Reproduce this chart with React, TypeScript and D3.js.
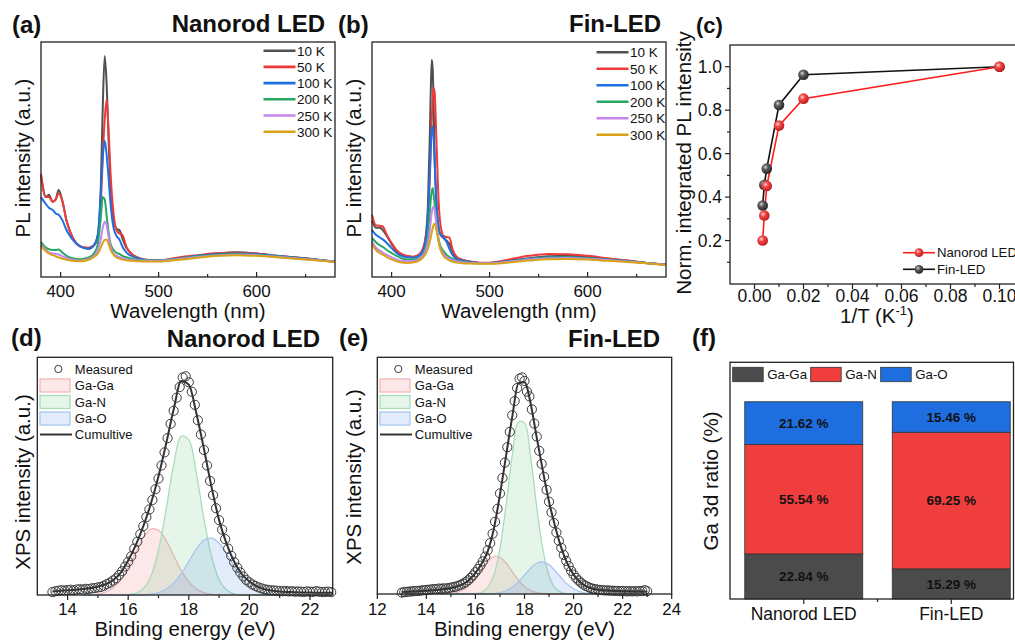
import React, { useEffect, useRef } from "react";
import * as d3 from "d3";

const FONT = "'Liberation Sans', Arial, Helvetica, sans-serif";
const INK = "#222";

// ---- (a)/(b) temperature dependent PL spectra (intensity in % of frame height)
const TEMPS = ["10 K", "50 K", "100 K", "200 K", "250 K", "300 K"];
const TEMP_COLORS = ["#505050", "#f03a3a", "#1f6fe0", "#27a862", "#c586ee", "#d8a316"];

const WL_NR = [380, 385, 388, 392, 395, 398, 402, 406, 412, 420, 428, 434, 438, 441, 443, 445, 447, 449, 451, 454, 457, 460, 463, 467, 472, 480, 490, 500, 520, 540, 560, 580, 600, 620, 640, 660, 680];
const NR_10K = [43, 34, 35, 32, 33, 37, 32, 24, 17, 13, 12, 13.5, 18, 38, 72, 94, 82, 58, 38, 25, 20.5, 20, 16.5, 12.5, 10, 8, 7.1, 7, 8, 9, 10, 10.5, 10, 9, 8.3, 7.5, 6.5];
const NR_50K = [44, 34, 34, 32, 33, 35.5, 32, 24, 17, 13, 12.5, 13.5, 17, 30, 51, 67, 75.5, 62, 44, 27, 20, 18.5, 18, 13, 10, 8, 7.2, 7, 8.3, 9.3, 10.2, 10.3, 10, 9, 8.3, 7.5, 6.5];
const NR_100K = [34, 31, 29.5, 28.5, 27, 26.5, 24, 20, 16, 13, 12, 13.5, 18, 36, 51, 58, 52, 42, 31, 21, 17.5, 16, 13, 10.5, 9, 7.8, 7.1, 7, 7.8, 9, 9.8, 10, 9.8, 9, 8.2, 7.4, 6.5];
const NR_200K = [15, 12.5, 11.8, 11.5, 11.5, 11.7, 10.3, 9, 8, 7.6, 8.2, 10, 14, 25, 34, 33, 26, 19, 14, 11.5, 10.3, 9.8, 9, 8.4, 7.8, 7.3, 7, 7, 7.8, 8.8, 9.5, 9.8, 9.5, 8.8, 8, 7.3, 6.5];
const NR_250K = [13.8, 11.5, 10.5, 10, 9.8, 9.6, 8.8, 8, 7.4, 7, 7.6, 9, 11.5, 16, 21, 23.5, 22, 17, 13, 10, 9, 8.5, 8, 7.6, 7.3, 7, 6.9, 6.9, 7.6, 8.5, 9.2, 9.5, 9.3, 8.6, 7.9, 7.2, 6.5];
const NR_300K = [13.3, 11, 10, 9.3, 8.8, 8.3, 7.8, 7.3, 6.9, 6.7, 7.2, 8.5, 10, 12.5, 14.5, 15.8, 16, 14, 11.5, 9.5, 8.3, 7.8, 7.4, 7.1, 6.9, 6.7, 6.6, 6.6, 7.3, 8.2, 9, 9.3, 9, 8.4, 7.8, 7.1, 6.4];

const WL_FIN = [380, 384, 388, 391, 395, 400, 405, 410, 416, 422, 428, 432, 435, 437, 439, 440, 441, 442, 443, 444, 446, 448, 450, 453, 456, 459, 462, 466, 472, 480, 490, 500, 520, 540, 560, 580, 600, 620, 640, 660, 680];
const FIN_10K = [24, 21, 21, 20, 17.5, 14, 11, 9.5, 8.8, 8.5, 9.5, 12, 18, 30, 60, 80, 92.5, 88, 70, 50, 30, 21, 18, 16.5, 15.5, 14, 11, 8.5, 7.3, 6.5, 6, 6, 6.8, 8, 8.8, 9, 8.5, 7.8, 7, 6, 5.2];
const FIN_50K = [26.5, 22, 21.8, 21.5, 18, 14.5, 11.5, 9.8, 8.9, 8.6, 9.6, 12, 17, 25, 42, 55, 67, 76, 80.5, 78, 55, 32, 22, 17.5, 17, 16.8, 12, 8.8, 7.4, 6.6, 6.1, 6.1, 7.5, 9, 9.8, 9.7, 9, 8, 7, 6, 5.2];
const FIN_100K = [20, 18, 16.8, 16, 14.5, 12.3, 10.2, 9, 8.4, 8.2, 9, 11, 16, 26, 45, 56, 63, 64, 58, 48, 30, 21, 18, 17, 15, 12, 9.5, 7.8, 7, 6.4, 6, 6, 6.8, 7.8, 8.4, 8.5, 8.1, 7.5, 6.8, 6, 5.2];
const FIN_200K = [16.6, 14.8, 13.5, 12.8, 11.5, 10.2, 9, 8, 7.5, 7.4, 8, 9.5, 12.5, 17, 28, 33, 36.5, 37.8, 35, 31, 22, 16, 13, 11, 9.5, 8.5, 7.8, 7, 6.5, 6.1, 5.9, 5.9, 6.6, 7.6, 8.3, 8.4, 8, 7.4, 6.7, 6, 5.2];
const FIN_250K = [15, 12.5, 11.2, 10.4, 9.4, 8.4, 7.5, 6.9, 6.7, 6.8, 7.6, 9, 11.5, 14.5, 20, 24, 27.5, 29.5, 30, 28.5, 21, 15, 12, 9.8, 8.6, 7.8, 7.2, 6.7, 6.3, 6, 5.8, 5.8, 6.5, 7.4, 8, 8.1, 7.8, 7.2, 6.6, 5.9, 5.2];
const FIN_300K = [13.8, 11.5, 10.2, 9.5, 8.5, 7.5, 6.7, 6.2, 6, 6.2, 7, 8.3, 10, 12, 15, 17, 19, 21, 22.3, 22.7, 19.5, 15, 11.5, 9, 7.8, 7.1, 6.6, 6.2, 5.9, 5.7, 5.6, 5.6, 6.2, 7, 7.6, 7.7, 7.4, 6.9, 6.4, 5.8, 5.1];

// ---- (c) normalized integrated PL intensity vs 1/T
const INV_T = [0.1, 0.02, 0.01, 0.005, 0.004, 0.00333];
const NORM_NANOROD = [1.0, 0.853, 0.729, 0.451, 0.315, 0.2];
const NORM_FIN = [1.0, 0.963, 0.824, 0.531, 0.456, 0.361];

// ---- (d)/(e) Ga 3d XPS (intensity in % of frame height)
const COMP_E = [14.5, 15.0, 15.25, 15.5, 15.75, 16.0, 16.25, 16.5, 16.75, 17.0, 17.25, 17.5, 17.75, 18.0, 18.25, 18.5, 18.75, 19.0, 19.25, 19.5, 19.75, 20.0, 20.25, 20.5, 20.75, 21.0];
const NR_GAGA = [0, 0.4, 1.2, 3.0, 6.3, 11.5, 18.0, 24.1, 27.7, 27.2, 23.0, 16.6, 10.3, 5.5, 2.5, 1.0, 0.3, 0.1, 0, 0, 0, 0, 0, 0, 0, 0];
const NR_GAN = [0, 0, 0, 0, 0, 0.2, 0.7, 2.7, 7.9, 18.9, 35.9, 54.7, 66.8, 65.3, 51.2, 32.1, 16.2, 6.5, 2.1, 0.5, 0.1, 0, 0, 0, 0, 0];
const NR_GAO = [0, 0, 0, 0, 0, 0, 0, 0.1, 0.4, 1.0, 2.5, 5.0, 9.0, 14.1, 19.3, 23.0, 23.9, 21.8, 17.3, 12.0, 7.3, 3.8, 1.8, 0.7, 0.25, 0.1];
const FIN_GAGA = [0, 0.2, 0.7, 1.7, 3.6, 6.6, 10.3, 13.8, 15.8, 15.5, 13.1, 9.5, 5.9, 3.1, 1.4, 0.6, 0.2, 0.05, 0, 0, 0, 0, 0, 0, 0, 0];
const FIN_GAN = [0, 0, 0, 0, 0, 0.15, 0.7, 2.7, 8.0, 19.4, 37.7, 58.4, 72.6, 72.3, 57.7, 36.8, 18.8, 7.7, 2.5, 0.7, 0.15, 0, 0, 0, 0, 0];
const FIN_GAO = [0, 0, 0, 0, 0, 0, 0, 0.07, 0.2, 0.6, 1.4, 2.8, 5.1, 8.0, 10.9, 13.0, 13.5, 12.4, 9.8, 6.8, 4.1, 2.2, 1.0, 0.4, 0.14, 0.05];

const NR_CUM_E = [13.5, 14.0, 14.5, 15.0, 15.25, 15.5, 15.75, 16.0, 16.25, 16.5, 16.75, 17.0, 17.25, 17.5, 17.75, 18.0, 18.25, 18.5, 18.75, 19.0, 19.25, 19.5, 19.75, 20.0, 20.25, 20.5, 21.0, 21.5, 22.0, 22.75];
const NR_CUM = [1.5, 2.0, 2.5, 3.5, 4.5, 6.2, 9.3, 14.5, 21.0, 29.0, 38.5, 50.0, 63.5, 78.0, 90.0, 88.5, 76.5, 61.5, 45.5, 31.5, 21.5, 14.0, 8.8, 5.7, 3.6, 2.4, 1.5, 1.2, 1.0, 0.9];
const FIN_CUM_E = [13.0, 13.5, 14.0, 14.5, 15.0, 15.25, 15.5, 15.75, 16.0, 16.25, 16.5, 16.75, 17.0, 17.25, 17.5, 17.75, 18.0, 18.25, 18.5, 18.75, 19.0, 19.25, 19.5, 19.75, 20.0, 20.25, 20.5, 20.75, 21.0, 21.5, 22.0, 22.5, 23.0];
const FIN_CUM = [0.8, 1.1, 1.4, 1.8, 2.5, 3.2, 4.2, 6.0, 8.9, 12.8, 18.0, 27.5, 42.0, 58.5, 74.8, 89.0, 89.5, 80.5, 66.0, 52.0, 39.0, 28.5, 19.5, 12.8, 8.2, 5.2, 3.3, 2.3, 1.8, 1.4, 1.2, 1.1, 1.0];

// measured points, 0.1 eV step
const NR_MEAS_START = 13.5;
const NR_MEAS = [
  1.2, 1.6, 1.8, 2.0, 1.9, 2.1, 2.2, 2.0, 2.3, 2.4,
  2.3, 2.6, 2.5, 2.8, 2.9, 3.2, 3.4, 3.9, 4.6, 5.2,
  6.1, 7.0, 8.4, 10.0, 12.0, 14.0, 16.3, 19.5, 22.4, 25.6,
  29.0, 32.8, 36.0, 40.0, 44.5, 49.0, 54.5, 60.0, 66.0, 72.0,
  77.5, 83.0, 87.5, 91.5, 92.0, 89.5, 85.5, 80.0, 73.5, 67.5,
  61.0, 54.5, 48.0, 42.0, 36.5, 31.5, 27.5, 23.5, 19.5, 16.5,
  13.8, 11.5, 9.5, 7.8, 6.3, 5.3, 4.4, 3.8, 3.2, 2.8,
  2.4, 2.2, 2.0, 1.9, 1.8, 1.7, 1.6, 1.7, 1.5, 1.6,
  1.4, 1.5, 1.4, 1.3, 1.5, 1.4, 1.3, 1.6, 1.4, 1.2,
  1.3, 1.4, 1.2,
];
const FIN_MEAS_START = 13.0;
const FIN_MEAS = [
  0.6, 0.8, 0.9, 1.0, 1.1, 1.2, 1.3, 1.3, 1.5, 1.6,
  1.7, 1.8, 1.9, 2.1, 2.0, 2.3, 2.2, 2.4, 2.3, 2.5,
  2.7, 2.9, 3.1, 3.5, 3.9, 4.4, 5.0, 5.8, 6.8, 7.9,
  9.2, 10.5, 12.0, 13.8, 15.8, 18.5, 21.5, 25.5, 30.5, 36.0,
  42.5, 49.0, 55.5, 62.0, 68.5, 75.5, 81.5, 87.0, 91.0, 91.5,
  90.0, 85.5, 83.5, 78.0, 72.0, 66.5, 60.5, 55.0, 49.5, 44.0,
  39.0, 34.5, 30.0, 26.0, 22.5, 19.5, 16.5, 14.0, 11.8, 9.8,
  8.2, 6.8, 5.7, 4.8, 4.0, 3.4, 2.9, 2.5, 2.2, 2.0,
  1.8, 1.7, 1.6, 1.5, 1.5, 1.4, 1.4, 1.3, 1.3, 1.2,
  1.3, 1.2, 1.1, 1.2, 1.1, 1.2, 1.1, 1.3, 1.2, 1.6,
  1.2,
];

// ---- (f) Ga 3d ratio
const SAMPLES = ["Nanorod LED", "Fin-LED"];
const RATIO_GAGA = [22.84, 15.29];
const RATIO_GAN = [55.54, 69.25];
const RATIO_GAO = [21.62, 15.46];
const BOND_KEYS = ["Ga-Ga", "Ga-N", "Ga-O"];
const BAR_COLORS = ["#4b4b4b", "#f03d3d", "#1e6ee0"];
const COMP_FILL = ["rgba(238,120,120,0.17)", "rgba(110,200,140,0.18)", "rgba(110,160,232,0.2)"];
const COMP_LINE = ["#f3b8b8", "#aadcba", "#a9c6ef"];

type Sel = d3.Selection<SVGGElement, unknown, null, undefined>;

function text(g: Sel, x: number, y: number, s: string, size: number, anchor = "start", bold = false) {
  return g.append("text")
    .attr("x", x).attr("y", y)
    .attr("font-family", FONT).attr("font-size", size)
    .attr("font-weight", bold ? "bold" : "normal")
    .attr("text-anchor", anchor).attr("fill", "#111")
    .text(s);
}

function vLabel(g: Sel, x: number, y: number, s: string, size = 20.5) {
  return g.append("text")
    .attr("transform", `translate(${x},${y}) rotate(-90)`)
    .attr("font-family", FONT).attr("font-size", size)
    .attr("text-anchor", "middle").attr("fill", "#111")
    .text(s);
}

function frame(g: Sel, l: number, t: number, r: number, b: number) {
  g.append("rect").attr("x", l).attr("y", t).attr("width", r - l).attr("height", b - t)
    .attr("fill", "none").attr("stroke", INK).attr("stroke-width", 1.3);
}

function xTicks(g: Sel, xs: number[], y: number, len: number) {
  xs.forEach((px) => g.append("line").attr("x1", px).attr("x2", px).attr("y1", y).attr("y2", y + len)
    .attr("stroke", INK).attr("stroke-width", 1.2));
}

function yTicks(g: Sel, ys: number[], x: number, len: number) {
  ys.forEach((py) => g.append("line").attr("x1", x).attr("x2", x + len).attr("y1", py).attr("y2", py)
    .attr("stroke", INK).attr("stroke-width", 1.2));
}

function spectraPanel(svg: Sel, o: any) {
  const g = svg.append("g");
  const x = d3.scaleLinear().domain([380, 680]).range([o.left, o.right]);
  const y = d3.scaleLinear().domain([0, 100]).range([o.bottom, o.top]);
  const line = d3.line<number>().x((_, i) => x(o.wl[i])).y((d) => y(d)).curve(d3.curveMonotoneX);
  o.series.forEach((s: number[], i: number) => {
    g.append("path").attr("d", line(s)).attr("fill", "none")
      .attr("stroke", TEMP_COLORS[i]).attr("stroke-width", 2).attr("stroke-linejoin", "round");
  });
  frame(g, o.left, o.top, o.right, o.bottom);
  xTicks(g, [400, 500, 600].map(x), o.bottom, -5);
  xTicks(g, [450, 550, 650].map(x), o.bottom, -3);
  [400, 500, 600].forEach((v) => text(g, x(v), 296.5, String(v), 17, "middle"));
  text(g, (o.left + o.right) / 2, 318, "Wavelength (nm)", 20.5, "middle");
  vLabel(g, o.yLabelX, 158, "PL intensity (a.u.)");
  text(g, o.tagX, 32.5, o.tag, 24, "start", true);
  text(g, o.titleRight, 32, o.title, 24, "end", true);
  TEMPS.forEach((t, i) => {
    const ly = o.legY + i * o.legStep;
    g.append("line").attr("x1", o.legX).attr("x2", o.legX + 32).attr("y1", ly).attr("y2", ly)
      .attr("stroke", TEMP_COLORS[i]).attr("stroke-width", 2.6);
    text(g, o.legX + 33.5, ly + 5, t, 13.5);
  });
}

function xpsPanel(svg: Sel, o: any) {
  const g = svg.append("g");
  const x = d3.scaleLinear().domain(o.domain).range([o.left, o.right]);
  const y = d3.scaleLinear().domain([0, 100]).range([o.bottom, o.top]);
  const comps = [o.gaga, o.gan, o.gao];
  comps.forEach((vals: number[], k: number) => {
    const area = d3.area<number>().x((_, i) => x(COMP_E[i])).y0(y(0)).y1((d) => y(d))
      .curve(d3.curveCatmullRom.alpha(0.5));
    const ln = d3.line<number>().x((_, i) => x(COMP_E[i])).y((d) => y(d))
      .curve(d3.curveCatmullRom.alpha(0.5));
    g.append("path").attr("d", area(vals)).attr("fill", COMP_FILL[k]);
    g.append("path").attr("d", ln(vals)).attr("fill", "none").attr("stroke", COMP_LINE[k]).attr("stroke-width", 1.3);
  });
  o.meas.forEach((v: number, i: number) => {
    g.append("circle").attr("cx", x(o.measStart + i * 0.1)).attr("cy", y(v)).attr("r", 4.6)
      .attr("fill", "none").attr("stroke", "#3a3a3a").attr("stroke-width", 1);
  });
  const cum = d3.line<number>().x((_, i) => x(o.cumE[i])).y((d) => y(d)).curve(d3.curveMonotoneX);
  g.append("path").attr("d", cum(o.cum)).attr("fill", "none").attr("stroke", "#333").attr("stroke-width", 2);
  frame(g, o.left, o.top, o.right, o.bottom);
  xTicks(g, o.majors.map(x), o.bottom, 5);
  xTicks(g, o.minors.map(x), o.bottom, 3);
  o.majors.forEach((v: number) => text(g, x(v), 614.5, String(v), 16.8, "middle"));
  text(g, (o.left + o.right) / 2, 635.5, "Binding energy (eV)", 20.5, "middle");
  vLabel(g, o.yLabelX, o.yLabelY, "XPS intensity (a.u.)");
  text(g, o.tagX, 346, o.tag, 24, "start", true);
  text(g, o.titleRight, 346.5, o.title, 24, "end", true);
  // legend
  const lx = o.left + 2.7;
  const tx = o.left + 37.5;
  g.append("circle").attr("cx", o.left + 21).attr("cy", 369).attr("r", 3.6)
    .attr("fill", "none").attr("stroke", "#3a3a3a").attr("stroke-width", 1);
  text(g, tx, 373.5, "Measured", 13);
  BOND_KEYS.forEach((k, i) => {
    const cy = 385.5 + i * 16.5;
    g.append("rect").attr("x", lx).attr("y", cy - 6.5).attr("width", 30).attr("height", 13)
      .attr("fill", COMP_FILL[i]).attr("stroke", COMP_LINE[i]).attr("stroke-width", 1.3);
    text(g, tx, cy + 4.5, k, 13);
  });
  g.append("line").attr("x1", lx).attr("x2", lx + 32).attr("y1", 434.5).attr("y2", 434.5)
    .attr("stroke", "#333").attr("stroke-width", 2);
  text(g, tx, 439, "Cumultive", 13);
}

function App() {
  const ref = useRef<SVGSVGElement>(null);

  useEffect(() => {
    document.body.style.margin = "0";
    const root = d3.select(ref.current);
    root.selectAll("*").remove();
    const svg = root.append("g") as unknown as Sel;

    // sphere gradients for panel (c)
    const defs = root.append("defs");
    const grad = (id: string, stops: [number, string][]) => {
      const rg = defs.append("radialGradient").attr("id", id).attr("cx", "0.38").attr("cy", "0.36").attr("r", "0.7");
      stops.forEach(([o, c]) => rg.append("stop").attr("offset", o).attr("stop-color", c));
    };
    grad("sphRed", [[0, "#ffd6d6"], [0.35, "#f24848"], [1, "#b41515"]]);
    grad("sphGray", [[0, "#d6d6d6"], [0.35, "#5c5c5c"], [1, "#1c1c1c"]]);

    // (a) Nanorod LED PL
    spectraPanel(svg, {
      left: 41, right: 335, top: 42, bottom: 277, wl: WL_NR,
      series: [NR_10K, NR_50K, NR_100K, NR_200K, NR_250K, NR_300K],
      tag: "(a)", tagX: 12, title: "Nanorod LED", titleRight: 325, yLabelX: 30,
      legX: 263.5, legY: 50.7, legStep: 16.2,
    });
    // (b) Fin-LED PL
    spectraPanel(svg, {
      left: 372, right: 666, top: 42, bottom: 277, wl: WL_FIN,
      series: [FIN_10K, FIN_50K, FIN_100K, FIN_200K, FIN_250K, FIN_300K],
      tag: "(b)", tagX: 338, title: "Fin-LED", titleRight: 661, yLabelX: 361,
      legX: 596.5, legY: 52.3, legStep: 16.5,
    });

    // (c) normalized integrated intensity
    {
      const g = svg.append("g");
      const x = d3.scaleLinear().domain([-0.01, 0.11]).range([730, 1024]);
      const y = d3.scaleLinear().domain([0, 1.1]).range([284, 45]);
      frame(g, 730, 45, 1024, 284);
      xTicks(g, [0, 0.02, 0.04, 0.06, 0.08, 0.1].map(x), 284, 5);
      xTicks(g, [0.01, 0.03, 0.05, 0.07, 0.09].map(x), 284, 3);
      yTicks(g, [0.2, 0.4, 0.6, 0.8, 1.0].map(y), 730, -5);
      yTicks(g, [0.1, 0.3, 0.5, 0.7, 0.9].map(y), 730, -3);
      [0, 0.02, 0.04, 0.06, 0.08, 0.1].forEach((v) => text(g, x(v), 302, d3.format(".2f")(v), 17.5, "middle"));
      [0.2, 0.4, 0.6, 0.8, 1.0].forEach((v) => text(g, 722, y(v) + 6.3, d3.format(".1f")(v), 17.5, "end"));
      const lbl = text(g, 877, 323, "1/T (K", 20.5, "middle");
      lbl.append("tspan").attr("font-size", 13).attr("dy", -8).text("-1");
      lbl.append("tspan").attr("dy", 8).text(")");
      vLabel(g, 691, 163, "Norm. integrated PL intensity");
      text(g, 696, 33, "(c)", 22, "start", true);

      const line = d3.line<number>().x((_, i) => x(INV_T[i])).y((d) => y(d));
      const sets = [
        { vals: NORM_FIN, col: "#111", grad: "url(#sphGray)", name: "Fin-LED" },
        { vals: NORM_NANOROD, col: "#ff1c1c", grad: "url(#sphRed)", name: "Nanorod LED" },
      ];
      sets.forEach((s) => g.append("path").attr("d", line(s.vals)).attr("fill", "none")
        .attr("stroke", s.col).attr("stroke-width", 1.6));
      sets.forEach((s) => s.vals.forEach((v, i) => g.append("circle")
        .attr("cx", x(INV_T[i])).attr("cy", y(v)).attr("r", 5.3).attr("fill", s.grad)));
      // legend
      [sets[1], sets[0]].forEach((s, i) => {
        const ly = 252.7 + i * 16.6;
        g.append("line").attr("x1", 903).attr("x2", 935).attr("y1", ly).attr("y2", ly)
          .attr("stroke", s.col).attr("stroke-width", 1.6);
        g.append("circle").attr("cx", 919).attr("cy", ly).attr("r", 4.4).attr("fill", s.grad);
        text(g, 937, ly + 4.7, s.name, 13.2);
      });
    }

    // (d) Nanorod LED XPS
    xpsPanel(svg, {
      left: 37.3, right: 332.7, top: 357.3, bottom: 595, domain: [13, 22.75],
      majors: [14, 16, 18, 20, 22], minors: [15, 17, 19, 21],
      gaga: NR_GAGA, gan: NR_GAN, gao: NR_GAO, cumE: NR_CUM_E, cum: NR_CUM,
      measStart: NR_MEAS_START, meas: NR_MEAS,
      tag: "(d)", tagX: 11, title: "Nanorod LED", titleRight: 320, yLabelX: 30, yLabelY: 482,
    });
    // (e) Fin-LED XPS
    xpsPanel(svg, {
      left: 377.3, right: 671.7, top: 357.3, bottom: 594, domain: [12, 24],
      majors: [12, 14, 16, 18, 20, 22, 24], minors: [13, 15, 17, 19, 21, 23],
      gaga: FIN_GAGA, gan: FIN_GAN, gao: FIN_GAO, cumE: FIN_CUM_E, cum: FIN_CUM,
      measStart: FIN_MEAS_START, meas: FIN_MEAS,
      tag: "(e)", tagX: 339, title: "Fin-LED", titleRight: 660, yLabelX: 361, yLabelY: 477,
    });

    // (f) stacked ratio bars
    {
      const g = svg.append("g");
      const rows = SAMPLES.map((s, i) => ({ s, "Ga-Ga": RATIO_GAGA[i], "Ga-N": RATIO_GAN[i], "Ga-O": RATIO_GAO[i] }));
      const x = d3.scaleBand().domain(SAMPLES).range([730, 1025]).paddingInner(0.2).paddingOuter(0.1);
      const y = d3.scaleLinear().domain([0, 120]).range([599, 362.3]);
      const stack = d3.stack<any>().keys(BOND_KEYS)(rows);
      stack.forEach((layer, k) => {
        layer.forEach((seg: any) => {
          const sx = x(seg.data.s) as number;
          g.append("rect").attr("x", sx).attr("y", y(seg[1])).attr("width", x.bandwidth())
            .attr("height", y(seg[0]) - y(seg[1])).attr("fill", BAR_COLORS[k])
            .attr("stroke", "#333").attr("stroke-width", 0.8);
          text(g, sx + x.bandwidth() / 2, (y(seg[0]) + y(seg[1])) / 2 + 4.8,
            d3.format(".2f")(seg[1] - seg[0]) + " %", 13.5, "middle", true);
        });
      });
      frame(g, 730, 362.3, 1013.5, 599);
      const centers = SAMPLES.map((s) => (x(s) as number) + x.bandwidth() / 2);
      xTicks(g, centers, 599, 5);
      xTicks(g, [(centers[0] + centers[1]) / 2], 599, 3);
      SAMPLES.forEach((s, i) => text(g, centers[i], 620, s, 17.5, "middle"));
      vLabel(g, 718, 481, "Ga 3d ratio (%)");
      text(g, 692, 346, "(f)", 24, "start", true);
      const legX = [732.7, 810.7, 880.7];
      BOND_KEYS.forEach((k, i) => {
        g.append("rect").attr("x", legX[i]).attr("y", 367.3).attr("width", 30.5).attr("height", 14.4)
          .attr("fill", BAR_COLORS[i]).attr("stroke", "#333").attr("stroke-width", 0.8);
        text(g, legX[i] + 34.5, 379, k, 13.3);
      });
    }
  }, []);

  return (
    <svg ref={ref} width={1015} height={641} style={{ display: "block", background: "#fff" }} />
  );
}

export default App;
